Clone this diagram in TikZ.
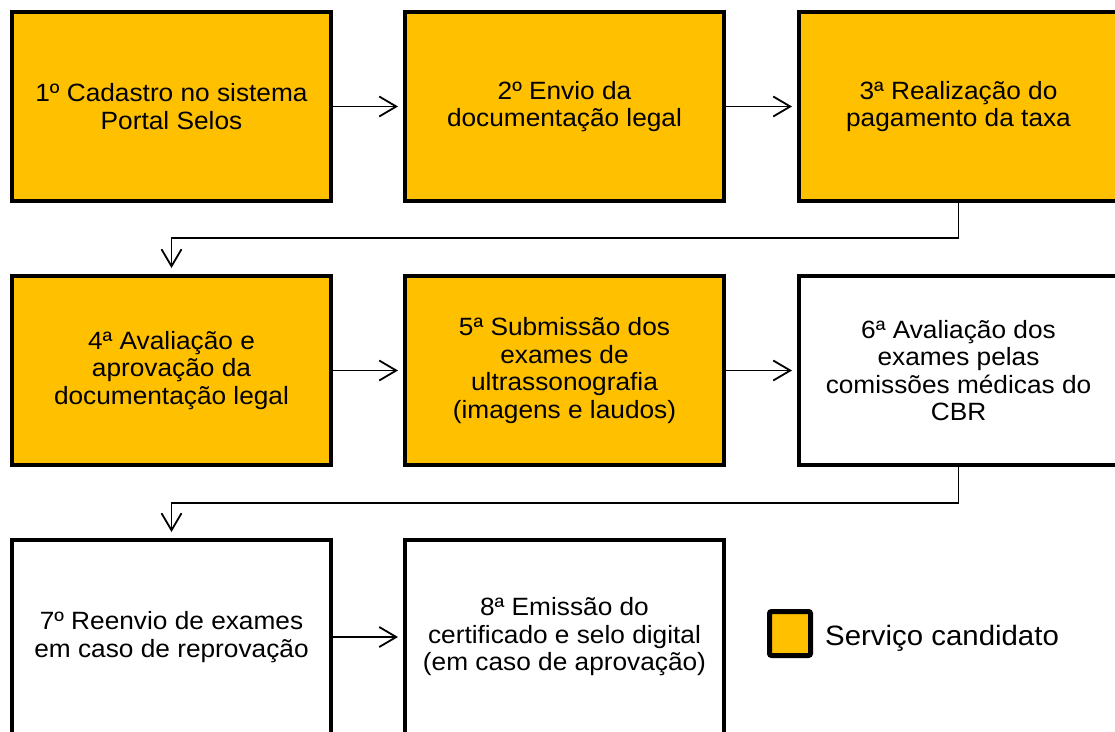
\documentclass[tikz,border=0pt]{standalone}
\usepackage{fontspec}
\setmainfont{Liberation Sans}[FakeStretch=1.05]
\usetikzlibrary{arrows.meta}
\definecolor{gold}{HTML}{FFC000}
\tikzset{
  stepbox/.style={draw=black, line width=4pt, minimum width=319pt, minimum height=189pt,
    inner sep=0pt, align=center, font=\fontsize{25}{27.5}\selectfont},
  cand/.style={stepbox, fill=gold},
  plain/.style={stepbox, fill=white},
  steptext/.style={inner sep=0pt, align=center, font=\fontsize{25}{27.5}\selectfont},
  flow/.style={draw=black, line width=1.8pt, -{Straight Barb[length=17pt,width=20pt,line width=1.8pt]}},
  conn/.style={draw=black, line width=1.6pt, -{Straight Barb[length=17pt,width=20pt,line width=1.8pt]}},
}
\begin{document}
\begin{tikzpicture}[x=1pt,y=-1pt]
\useasboundingbox (0,0) rectangle (1115,731);
\clip (0,0) rectangle (1115,731);
\node[cand]  (b1) at (171.5,106.5) {1º Cadastro no sistema\\Portal Selos};
\node[cand]  (b2) at (564.5,106.5) {2º Envio da\\documentação legal};
\node[cand]  (b3) at (958.5,106.5) {3ª Realização do\\pagamento da taxa};
\node[cand]  (b4) at (171.5,370.5) {4ª Avaliação e\\aprovação da\\documentação legal};
\node[cand]  (b5) at (564.5,370.5) {5ª Submissão dos\\exames de\\ultrassonografia\\(imagens e laudos)};
\node[plain] (b6) at (958.5,370.5) {6ª Avaliação dos\\exames pelas\\comissões médicas do\\CBR};
\node[plain, minimum height=200pt] (b7) at (171.5,640) {};
\node[plain, minimum height=200pt] (b8) at (564.5,640) {};
\node[steptext] (t7) at (171.5,637) {7º Reenvio de exames\\em caso de reprovação};
\node[steptext] (t8) at (564.5,637) {8ª Emissão do\\certificado e selo digital\\(em caso de aprovação)};
% legend
\node[draw=black, fill=gold, line width=5pt, rounded corners=2pt, minimum width=41pt, minimum height=44pt, inner sep=0pt] (leg) at (790,633.5) {};
\node[anchor=base west, inner sep=0pt, font=\fontsize{28}{30}\selectfont] (legtxt) at (825,645) {Serviço candidato};
% horizontal arrows
\draw[flow, shorten >=5pt] (b1.east) -- (b2.west);
\draw[flow, shorten >=5pt] (b2.east) -- (b3.west);
\draw[flow, shorten >=5pt] (b4.east) -- (b5.west);
\draw[flow, shorten >=5pt] (b5.east) -- (b6.west);
\draw[flow, shorten >=5pt] (b7.east |- t7) -- (b8.west |- t8);
% row connectors
\coordinate (j1) at (0,238);
\coordinate (j2) at (0,503);
\draw[conn, shorten >=6pt] (b3.south) -- (b3.south |- j1) -| (b4.north);
\draw[conn, shorten >=6pt] (b6.south) -- (b6.south |- j2) -| (b7.north);
\end{tikzpicture}
\end{document}
